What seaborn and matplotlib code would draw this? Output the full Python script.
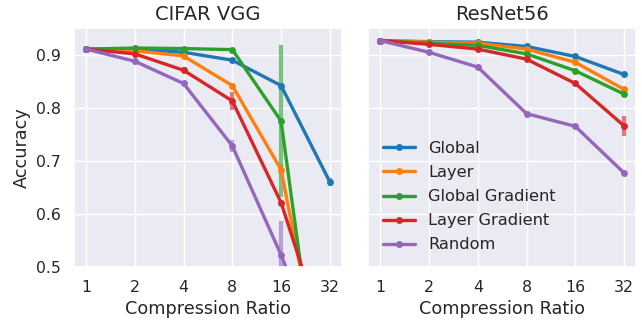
import numpy as np
import pandas as pd
import matplotlib
matplotlib.use("Agg")
import matplotlib.pyplot as plt
import seaborn as sns

ratios = [1, 2, 4, 8, 16, 32]
methods = ["Global", "Layer", "Global Gradient", "Layer Gradient", "Random"]

# CIFAR VGG accuracy per method
vgg_global = [0.912, 0.912, 0.906, 0.891, 0.843, 0.661]
vgg_layer = [0.912, 0.909, 0.899, 0.843, 0.684, 0.215]
vgg_global_grad = [0.912, 0.914, 0.913, 0.911, 0.776, 0.10]
vgg_layer_grad = [0.912, 0.903, 0.872, 0.814, 0.622, 0.337]
vgg_random = [0.912, 0.889, 0.847, 0.729, 0.523, 0.29]

# error bar half-widths (CIFAR VGG)
vgg_global_err = [0, 0, 0, 0, 0.003, 0.008]
vgg_layer_err = [0, 0, 0, 0, 0.008, 0]
vgg_global_grad_err = [0, 0, 0, 0, 0.143, 0]
vgg_layer_grad_err = [0, 0, 0.006, 0.017, 0.004, 0]
vgg_random_err = [0, 0, 0, 0.012, 0.065, 0]

# ResNet56 accuracy per method
res_global = [0.928, 0.926, 0.925, 0.917, 0.898, 0.864]
res_layer = [0.928, 0.925, 0.923, 0.912, 0.887, 0.836]
res_global_grad = [0.928, 0.923, 0.919, 0.903, 0.871, 0.827]
res_layer_grad = [0.928, 0.921, 0.912, 0.893, 0.847, 0.767]
res_random = [0.928, 0.906, 0.878, 0.790, 0.766, 0.678]

res_global_err = [0, 0, 0, 0, 0, 0.003]
res_layer_err = [0, 0, 0, 0, 0, 0.003]
res_global_grad_err = [0, 0, 0, 0, 0, 0.003]
res_layer_grad_err = [0, 0, 0, 0, 0, 0.019]
res_random_err = [0, 0, 0, 0.004, 0, 0]


def to_frame(values, errs):
    rows = []
    for m, vals, ers in zip(methods, values, errs):
        for r, v, e in zip(ratios, vals, ers):
            rows.append({"ratio": r, "acc": v, "err": e, "method": m})
    return pd.DataFrame(rows)


vgg_df = to_frame([vgg_global, vgg_layer, vgg_global_grad, vgg_layer_grad, vgg_random],
                  [vgg_global_err, vgg_layer_err, vgg_global_grad_err, vgg_layer_grad_err, vgg_random_err])
res_df = to_frame([res_global, res_layer, res_global_grad, res_layer_grad, res_random],
                  [res_global_err, res_layer_err, res_global_grad_err, res_layer_grad_err, res_random_err])

sns.set_theme(style="darkgrid")
plt.rcParams["font.family"] = ["DejaVu Sans"]
palette = sns.color_palette("tab10", 5)

fig, axes = plt.subplots(1, 2, figsize=(6.42, 3.21), dpi=100, sharey=True)
fig.subplots_adjust(left=0.115, right=0.991, top=0.913, bottom=0.168, wspace=0.097)

for ax, df, title in zip(axes, [vgg_df, res_df], ["CIFAR VGG", "ResNet56"]):
    # error bars under the lines
    for m, c in zip(methods, palette):
        sub = df[(df.method == m) & (df.err > 0)]
        if len(sub):
            ax.errorbar(sub.ratio, sub.acc, yerr=sub.err, fmt="none", ecolor=c,
                        elinewidth=3, alpha=0.6, capsize=0, zorder=1.5)
    sns.lineplot(data=df, x="ratio", y="acc", hue="method", hue_order=methods,
                 palette=palette, marker="o", markersize=5, markeredgewidth=0,
                 linewidth=2.4, errorbar=None, ax=ax, zorder=2)
    ax.set_xscale("log", base=2)
    ax.set_xticks(ratios)
    ax.set_xticklabels([str(r) for r in ratios])
    ax.minorticks_off()
    ax.set_title(title, fontsize=14)
    ax.set_xlabel("Compression Ratio", fontsize=12.7)
    ax.tick_params(labelsize=11.3, pad=3)

axes[0].set_ylim(0.5, 0.952)
axes[0].set_yticks([0.5, 0.6, 0.7, 0.8, 0.9])
axes[0].set_ylabel("Accuracy", fontsize=12.7)
axes[1].set_ylabel("")
axes[0].get_legend().remove()
axes[1].legend(loc="lower left", frameon=False, fontsize=11.7, labelspacing=0.56,
               handlelength=2.0)

fig.savefig("out.png", dpi=100)
